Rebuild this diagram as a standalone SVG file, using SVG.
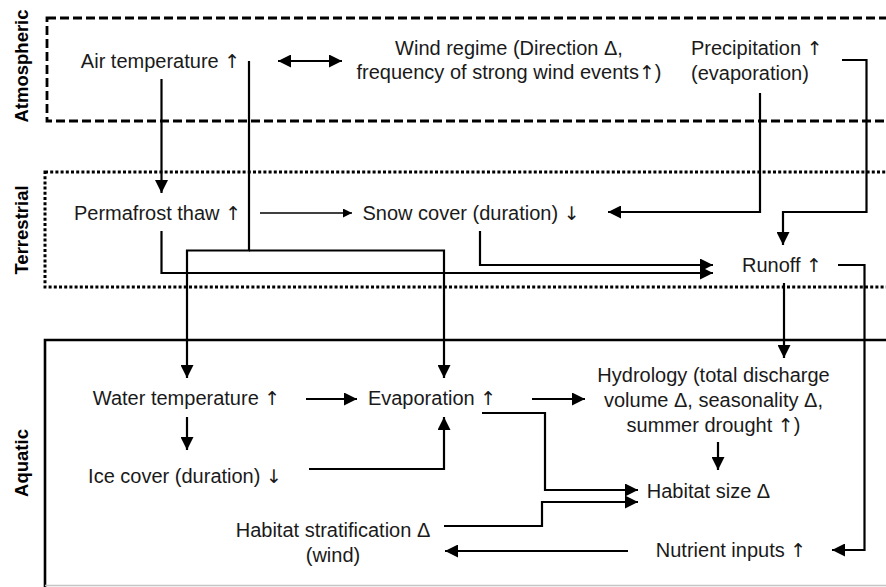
<svg xmlns="http://www.w3.org/2000/svg" width="886" height="587" viewBox="0 0 886 587">
<style>
.t{font-family:"Liberation Sans",Arial,sans-serif;font-size:20px;fill:#1a1a1a;text-anchor:middle}
.ts{text-anchor:start}
.a{font-family:"DejaVu Sans",sans-serif;font-size:19px}
.lab{font-family:"Liberation Sans",Arial,sans-serif;font-size:18.5px;font-weight:bold;fill:#000;text-anchor:middle}
.c{fill:none;stroke:#000;stroke-width:2.2;marker-end:url(#ah)}
.thin{fill:none;stroke:#000;stroke-width:1.4;marker-end:url(#ahs)}
</style>
<defs>
<marker id="ah" markerUnits="userSpaceOnUse" markerWidth="14" markerHeight="13" refX="13" refY="6.5" orient="auto">
<path d="M0,0 L13,6.5 L0,13 z" fill="#000"/>
</marker>
<marker id="ahs" markerUnits="userSpaceOnUse" markerWidth="10" markerHeight="9" refX="9" refY="4.5" orient="auto">
<path d="M0,0 L9,4.5 L0,9 z" fill="#000"/>
</marker>
<marker id="ahb" markerUnits="userSpaceOnUse" markerWidth="14" markerHeight="13" refX="0" refY="6.5" orient="auto">
<path d="M13,0 L0,6.5 L13,13 z" fill="#000"/>
</marker>
</defs>
<rect width="886" height="587" fill="#fff"/>
<g id="zones">
<rect x="47" y="18" width="900" height="103" fill="none" stroke="#000" stroke-width="2.8" stroke-dasharray="9 4"/>
<rect x="45" y="172" width="900" height="115" fill="none" stroke="#000" stroke-width="3" stroke-dasharray="3 2.2"/>
<path d="M886,340 H45 V587" fill="none" stroke="#000" stroke-width="2.6"/>
<line x1="45" y1="585.5" x2="886" y2="585.5" stroke="#c4c4c4" stroke-width="1.5"/>
<text class="lab" transform="translate(28,66) rotate(-90)">Atmospheric</text>
<text class="lab" transform="translate(28,230) rotate(-90)">Terrestrial</text>
<text class="lab" transform="translate(28,463) rotate(-90)">Aquatic</text>
</g>
<g id="connectors">
<path class="c" d="M161.5,79 V193"/>
<path d="M278,61 H342" fill="none" stroke="#000" stroke-width="2.2" marker-start="url(#ahb)" marker-end="url(#ah)"/>
<path class="c" d="M249,61 V250.5 H187 V378"/>
<path class="c" d="M249,250.5 H444 V378"/>
<path class="c" d="M760,93 V212 H608"/>
<path class="c" d="M842,60 H866.5 V212 H783 V245"/>
<path class="c" d="M161.5,231 V273 H713"/>
<path class="c" d="M480,231 V265 H713"/>
<path class="thin" d="M260,213 H352"/>
<path class="c" d="M784,283 V358"/>
<path class="c" d="M838,265 H864.5 V550 H832"/>
<path class="c" d="M187,417 V450"/>
<path class="c" d="M306,399 H357"/>
<path class="c" d="M532,399 H585"/>
<path class="c" d="M309,469 H444 V417"/>
<path class="c" d="M482,413 H545 V490 H638"/>
<path class="c" d="M444,526 H542 V502 H638"/>
<path class="c" d="M718,442 V470"/>
<path class="c" d="M628,551 H445"/>
</g>
<g id="air-temperature"><text class="t" x="160.5" y="68">Air temperature <tspan class="a">↑</tspan></text></g>
<g id="wind-regime"><text class="t" x="509" y="55">Wind regime (Direction Δ,</text><text class="t" x="509" y="79">frequency of strong wind events<tspan class="a">↑</tspan>)</text></g>
<g id="precipitation"><text class="t ts" x="691" y="55">Precipitation <tspan class="a">↑</tspan></text><text class="t ts" x="691" y="80">(evaporation)</text></g>
<g id="permafrost-thaw"><text class="t" x="157.5" y="220">Permafrost thaw <tspan class="a">↑</tspan></text></g>
<g id="snow-cover"><text class="t" x="471" y="220">Snow cover (duration) <tspan class="a">↓</tspan></text></g>
<g id="runoff"><text class="t" x="782" y="272">Runoff <tspan class="a">↑</tspan></text></g>
<g id="hydrology"><text class="t" x="713.5" y="382">Hydrology (total discharge</text><text class="t" x="713.5" y="407">volume Δ, seasonality Δ,</text><text class="t" x="713.5" y="432">summer drought <tspan class="a">↑</tspan>)</text></g>
<g id="water-temperature"><text class="t" x="186.5" y="405">Water temperature <tspan class="a">↑</tspan></text></g>
<g id="evaporation"><text class="t" x="432" y="405">Evaporation <tspan class="a">↑</tspan></text></g>
<g id="ice-cover"><text class="t" x="185" y="483">Ice cover (duration) <tspan class="a">↓</tspan></text></g>
<g id="habitat-size"><text class="t" x="708.5" y="498">Habitat size Δ</text></g>
<g id="habitat-stratification"><text class="t" x="333" y="537">Habitat stratification Δ</text><text class="t" x="333" y="562">(wind)</text></g>
<g id="nutrient-inputs"><text class="t" x="731" y="557">Nutrient inputs <tspan class="a">↑</tspan></text></g>
</svg>
